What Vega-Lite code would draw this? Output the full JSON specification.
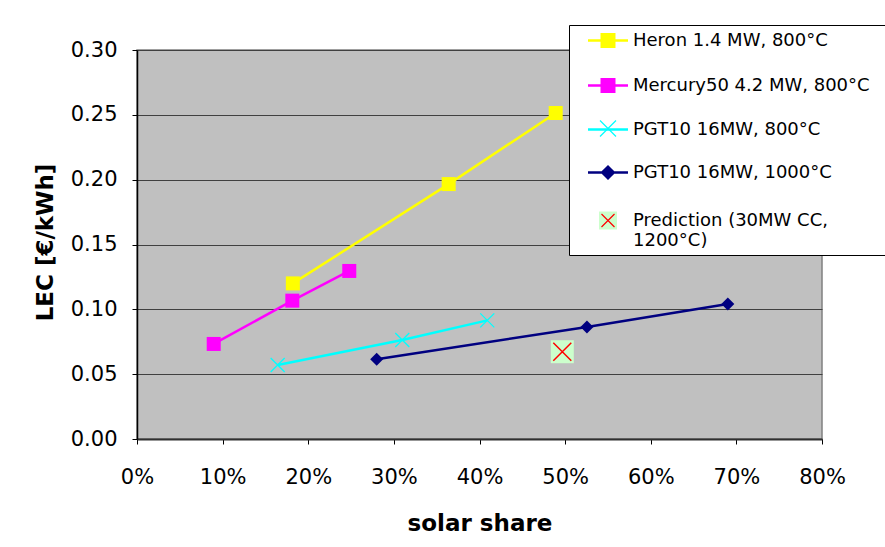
{
  "$schema": "https://vega.github.io/schema/vega-lite/v6.json",
  "width": 685,
  "height": 389,
  "autosize": {"type": "none"},
  "padding": {"left": 137, "top": 50, "right": 63, "bottom": 108},
  "background": "white",
  "config": {
    "font": "DejaVu Sans",
    "view": {"fill": "#c0c0c0", "stroke": "#808080", "strokeWidth": 1.5},
    "axis": {
      "labelFont": "DejaVu Sans", "labelFontSize": 21, "labelColor": "black",
      "tickColor": "black", "tickSize": 5, "tickWidth": 1,
      "domainColor": "black", "domainWidth": 1.5,
      "titleFont": "DejaVu Sans", "titleFontSize": 23, "titleFontWeight": "bold", "titleColor": "black"
    }
  },
  "data": {
    "values": [
      {"series": "Heron 1.4 MW, 800°C", "share": 0.182, "lec": 0.120},
      {"series": "Heron 1.4 MW, 800°C", "share": 0.364, "lec": 0.1966},
      {"series": "Heron 1.4 MW, 800°C", "share": 0.489, "lec": 0.2514},
      {"series": "Mercury50 4.2 MW, 800°C", "share": 0.0896, "lec": 0.0733},
      {"series": "Mercury50 4.2 MW, 800°C", "share": 0.1814, "lec": 0.1067},
      {"series": "Mercury50 4.2 MW, 800°C", "share": 0.2479, "lec": 0.1296},
      {"series": "PGT10 16MW, 800°C", "share": 0.1643, "lec": 0.0571},
      {"series": "PGT10 16MW, 800°C", "share": 0.3098, "lec": 0.0763},
      {"series": "PGT10 16MW, 800°C", "share": 0.4091, "lec": 0.0915},
      {"series": "PGT10 16MW, 1000°C", "share": 0.2799, "lec": 0.0615},
      {"series": "PGT10 16MW, 1000°C", "share": 0.5255, "lec": 0.0864},
      {"series": "PGT10 16MW, 1000°C", "share": 0.690, "lec": 0.1041},
      {"series": "Prediction (30MW CC, 1200°C)", "share": 0.4967, "lec": 0.0673}
    ]
  },
  "layer": [
    {
      "transform": [{"filter": "datum.series != 'Prediction (30MW CC, 1200°C)'"}],
      "mark": {"type": "line", "strokeWidth": 2.5},
      "encoding": {
        "x": {
          "field": "share", "type": "quantitative",
          "scale": {"domain": [0, 0.8], "nice": false},
          "axis": {
            "title": "solar share", "values": [0, 0.1, 0.2, 0.3, 0.4, 0.5, 0.6, 0.7, 0.8],
            "format": ".0%", "grid": false, "labelPadding": 22, "labelFlush": false,
            "domainColor": "#303030", "domainWidth": 2,
            "titleY": 91, "titleBaseline": "alphabetic"
          }
        },
        "y": {
          "field": "lec", "type": "quantitative",
          "scale": {"domain": [0, 0.3], "nice": false},
          "axis": {
            "title": "LEC [€/kWh]", "values": [0, 0.05, 0.1, 0.15, 0.2, 0.25, 0.3],
            "format": ".2f", "grid": true, "gridColor": "#404040", "gridWidth": 1,
            "labelPadding": 15, "labelFlush": false,
            "titleX": -85, "titleY": 192, "titleAngle": -90, "titleBaseline": "alphabetic", "titleAlign": "center"
          }
        },
        "color": {
          "field": "series", "type": "nominal",
          "scale": {
            "domain": ["Heron 1.4 MW, 800°C", "Mercury50 4.2 MW, 800°C", "PGT10 16MW, 800°C", "PGT10 16MW, 1000°C"],
            "range": ["#ffff00", "#ff00ff", "#00ffff", "#000080"]
          },
          "legend": null
        }
      }
    },
    {
      "transform": [{"filter": "datum.series == 'Heron 1.4 MW, 800°C' || datum.series == 'Mercury50 4.2 MW, 800°C'"}],
      "mark": {"type": "point", "filled": true, "shape": "square", "size": 196, "opacity": 1},
      "encoding": {
        "x": {"field": "share", "type": "quantitative"},
        "y": {"field": "lec", "type": "quantitative"},
        "fill": {
          "field": "series", "type": "nominal",
          "scale": {
            "domain": ["Heron 1.4 MW, 800°C", "Mercury50 4.2 MW, 800°C", "PGT10 16MW, 800°C", "PGT10 16MW, 1000°C", "Prediction (30MW CC, 1200°C)"],
            "range": ["#ffff00", "#ff00ff", "transparent", "#000080", "#ccffcc"]
          },
          "legend": {
            "orient": "none", "legendX": 432, "legendY": -25, "title": null,
            "padding": 5, "rowPadding": 22,
            "fillColor": "white", "strokeColor": "black",
            "symbolSize": 324, "symbolStrokeWidth": 2.5, "symbolOpacity": 1,
            "symbolType": {"expr": "datum.value == 'Heron 1.4 MW, 800°C' || datum.value == 'Mercury50 4.2 MW, 800°C' ? 'M-2.222,0L2.222,0M-0.694,-0.694L0.694,-0.694L0.694,0.694L-0.694,0.694Z' : datum.value == 'PGT10 16MW, 800°C' ? 'M-2.222,0L2.222,0' : datum.value == 'PGT10 16MW, 1000°C' ? 'M-2.222,0L2.222,0M-0.639,0L0,-0.639L0.639,0L0,0.639Z' : 'M-1,-1L1,-1L1,1L-1,1Z'"},
            "symbolStrokeColor": {"expr": "datum.value == 'Heron 1.4 MW, 800°C' ? '#ffff00' : datum.value == 'Mercury50 4.2 MW, 800°C' ? '#ff00ff' : datum.value == 'PGT10 16MW, 800°C' ? '#00ffff' : datum.value == 'PGT10 16MW, 1000°C' ? '#000080' : 'transparent'"},
            "symbolOffset": 23.5, "labelOffset": 14.5,
            "labelFont": "DejaVu Sans", "labelFontSize": 18, "labelColor": "black", "labelLimit": 500,
            "labelExpr": "datum.value == 'Prediction (30MW CC, 1200°C)' ? ['Prediction (30MW CC,', '1200°C)'] : datum.value == 'Mercury50 4.2 MW, 800°C' ? datum.label + '\u2800\u2800\u2800\u2800' : datum.label",
            "zindex": 1
          }
        }
      }
    },
    {
      "transform": [{"filter": "datum.series == 'PGT10 16MW, 1000°C'"}],
      "mark": {"type": "point", "filled": true, "shape": "diamond", "size": 169, "color": "#000080", "opacity": 1, "strokeWidth": 0},
      "encoding": {
        "x": {"field": "share", "type": "quantitative"},
        "y": {"field": "lec", "type": "quantitative"}
      }
    },
    {
      "transform": [{"filter": "datum.series == 'Prediction (30MW CC, 1200°C)'"}],
      "mark": {"type": "point", "filled": true, "shape": "square", "size": 529, "color": "#ccffcc", "opacity": 1, "strokeWidth": 0},
      "encoding": {
        "x": {"field": "share", "type": "quantitative"},
        "y": {"field": "lec", "type": "quantitative"}
      }
    },
    {
      "transform": [{"filter": "datum.series == 'Prediction (30MW CC, 1200°C)'"}],
      "mark": {"type": "point", "filled": false, "shape": "M-1,-1L1,1M1,-1L-1,1", "size": 324, "color": "#ff0000", "opacity": 1, "strokeWidth": 1.5},
      "encoding": {
        "x": {"field": "share", "type": "quantitative"},
        "y": {"field": "lec", "type": "quantitative"}
      }
    },
    {
      "transform": [{"filter": "datum.series == 'PGT10 16MW, 800°C'"}],
      "mark": {"type": "point", "filled": false, "shape": "M-1,-1L1,1M1,-1L-1,1", "size": 196, "opacity": 1, "strokeWidth": 1.3},
      "encoding": {
        "x": {"field": "share", "type": "quantitative"},
        "y": {"field": "lec", "type": "quantitative"},
        "stroke": {
          "field": "series", "type": "nominal",
          "scale": {
            "domain": ["Heron 1.4 MW, 800°C", "Mercury50 4.2 MW, 800°C", "PGT10 16MW, 800°C", "PGT10 16MW, 1000°C", "Prediction (30MW CC, 1200°C)", "_"],
            "range": ["transparent", "transparent", "#00ffff", "transparent", "#ff0000", "transparent"]
          },
          "legend": {
            "orient": "none", "legendX": 432, "legendY": -25, "title": null,
            "values": ["Heron 1.4 MW, 800°C", "Mercury50 4.2 MW, 800°C", "PGT10 16MW, 800°C", "PGT10 16MW, 1000°C", "Prediction (30MW CC, 1200°C)"],
            "padding": 5, "rowPadding": 23,
            "symbolType": {"expr": "datum.value == 'Prediction (30MW CC, 1200°C)' ? 'M-0.684,-0.264L0.684,1.104M0.684,-0.264L-0.684,1.104' : 'M-0.842,-0.842L0.842,0.842M0.842,-0.842L-0.842,0.842'"},
            "symbolSize": 361, "symbolStrokeWidth": 1.2,
            "symbolFillColor": "transparent", "symbolOpacity": 1,
            "symbolOffset": 23.5, "labelOffset": 14.5,
            "labelFont": "DejaVu Sans", "labelFontSize": 18, "labelOpacity": 0, "labelLimit": 500,
            "labelExpr": "datum.value == 'Prediction (30MW CC, 1200°C)' ? ['Prediction (30MW CC,', '1200°C)'] : datum.label",
            "zindex": 2
          }
        }
      }
    }
  ]
}
